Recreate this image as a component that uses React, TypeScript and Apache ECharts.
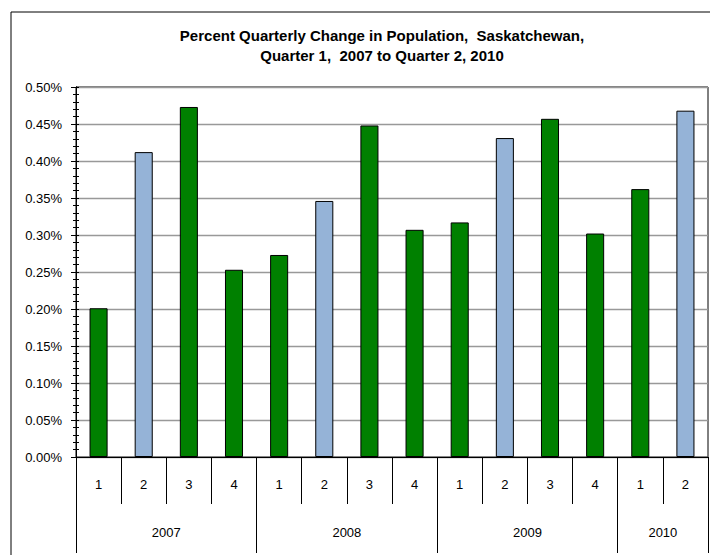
import React, { useEffect, useRef } from "react";
import * as echarts from "echarts";

const quarters = ["1", "2", "3", "4", "1", "2", "3", "4", "1", "2", "3", "4", "1", "2"];
const values = [0.201, 0.412, 0.473, 0.253, 0.273, 0.346, 0.448, 0.307, 0.317, 0.431, 0.457, 0.302, 0.362, 0.468];
const years = ["2007", "2008", "2009", "2010"];
const yearStarts = [0, 4, 8, 12, 14];
const yearCenters = [2, 6, 10, 13];
const yTicks = [0, 0.5, 0.05];

const GREEN = "#008000";
const BLUE = "#95B3D7";
const FONT = "Arial, 'Liberation Sans', sans-serif";

export default function App() {
  const ref = useRef<HTMLDivElement>(null);
  useEffect(() => {
    document.body.style.margin = "0";
    const chart = echarts.init(ref.current!, null, { renderer: "svg" });
    const yBase = {
      type: "value",
      min: yTicks[0],
      max: yTicks[1],
      interval: yTicks[2],
      position: "left",
      axisLine: { show: true, lineStyle: { color: "#000", width: 1 } },
    };
    chart.setOption({
      animation: false,
      backgroundColor: "#fff",
      textStyle: { fontFamily: FONT },
      title: {
        text: "Percent Quarterly Change in Population,  Saskatchewan,\nQuarter 1,  2007 to Quarter 2, 2010",
        left: 377,
        top: 20,
        textAlign: "center",
        textStyle: { fontSize: 15, fontWeight: "bold", color: "#000", lineHeight: 20, fontFamily: FONT },
      },
      graphic: [
        {
          type: "rect",
          shape: { x: 11, y: 12, width: 740, height: 600 },
          style: { fill: "none", stroke: "#000", lineWidth: 1 },
          silent: true,
        },
      ],
      grid: {
        left: 76,
        top: 87,
        right: 2,
        bottom: 98,
        show: true,
        borderColor: "#000",
        borderWidth: 1,
        backgroundColor: "transparent",
      },
      xAxis: [
        {
          type: "category",
          data: quarters,
          position: "bottom",
          axisLine: { show: true, lineStyle: { color: "#000" } },
          axisTick: { show: true, interval: 0, length: 47, lineStyle: { color: "#000" } },
          axisLabel: { interval: 0, margin: 21, fontSize: 13, color: "#000", fontFamily: FONT },
          splitLine: { show: false },
        },
        {
          type: "value",
          min: 0,
          max: 14,
          position: "bottom",
          axisLine: { show: false },
          axisTick: { show: true, customValues: yearStarts, length: 96, lineStyle: { color: "#000" } },
          axisLabel: {
            customValues: yearCenters,
            margin: 69,
            fontSize: 13,
            color: "#000",
            fontFamily: FONT,
            formatter: (v: number) => {
              const i = yearCenters.indexOf(v);
              return i >= 0 ? years[i] : "";
            },
          },
          splitLine: { show: false },
        },
      ],
      yAxis: [
        {
          ...yBase,
          axisTick: { show: true, length: 5, lineStyle: { color: "#000" } },
          minorTick: { show: true, splitNumber: 5, length: 3, lineStyle: { color: "#000" } },
          axisLabel: {
            margin: 14,
            fontSize: 13,
            color: "#000",
            fontFamily: FONT,
            formatter: (v: number) => v.toFixed(2) + "%",
          },
          splitLine: { show: true, lineStyle: { color: "#999", width: 1.3 } },
        },
        {
          ...yBase,
          axisTick: { show: true, inside: true, length: 3, lineStyle: { color: "#000" } },
          minorTick: { show: true, splitNumber: 5, length: 3, lineStyle: { color: "#000" } },
          axisLabel: { show: false },
          splitLine: { show: false },
        },
      ],
      series: [
        {
          type: "bar",
          xAxisIndex: 0,
          yAxisIndex: 0,
          barWidth: "40%",
          data: values.map((v, i) => ({
            value: v,
            itemStyle: { color: quarters[i] === "2" ? BLUE : GREEN },
          })),
          itemStyle: { borderColor: "#000", borderWidth: 1 },
        },
      ],
    });
    return () => chart.dispose();
  }, []);
  return (
    <div
      ref={ref}
      style={{ position: "absolute", left: 0, top: 0, width: 710, height: 555 }}
    />
  );
}
